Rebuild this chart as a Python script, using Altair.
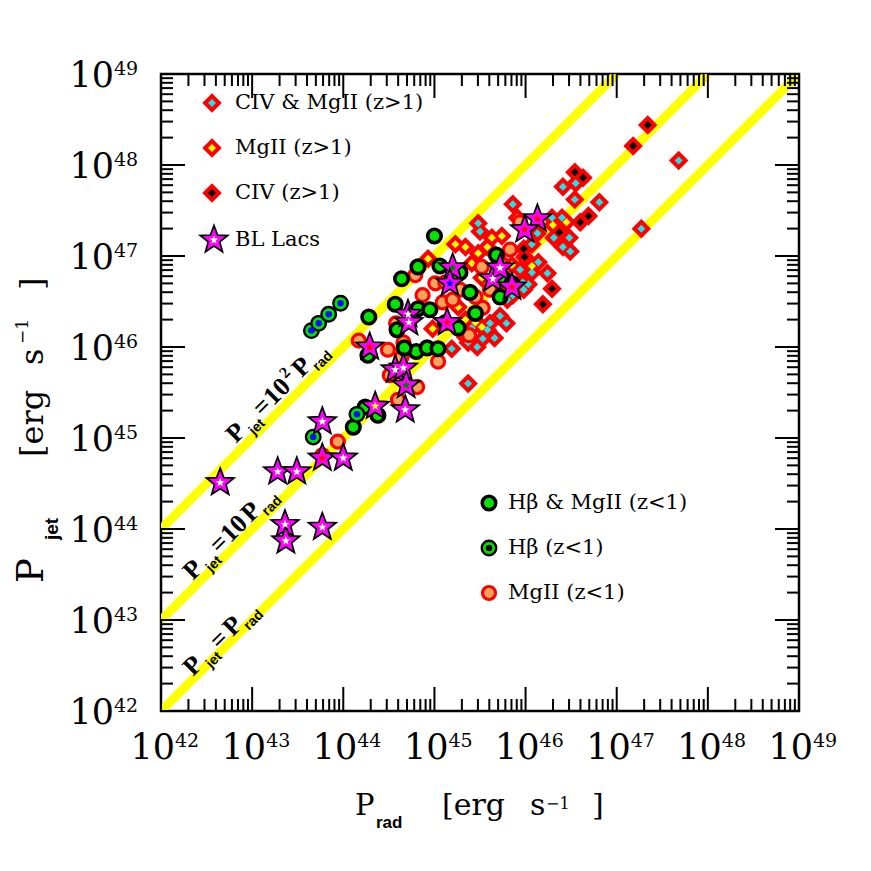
import altair as alt
import pandas as pd
import numpy as np

# ---------------- data (log10 of powers, erg/s) ----------------
# CIV & MgII (z>1)
civ_mgii_x = [47.68, 47.27, 46.81, 46.55, 46.41, 46.54, 45.86, 46.29, 46.40, 46.31,
              46.48, 46.41, 46.49, 46.07, 46.14, 46.07, 46.24, 46.03, 45.98, 45.86,
              45.72, 45.79, 45.66, 45.53, 45.47, 45.37, 45.19, 45.37, 45.61, 45.59,
              45.48, 45.50, 45.41, 45.34, 45.80, 45.74, 45.97, 45.58, 46.13, 45.94]
civ_mgii_y = [48.05, 47.30, 47.59, 47.80, 47.76, 47.62, 47.57, 47.42, 47.42, 47.20,
              47.20, 47.10, 47.05, 47.13, 46.93, 46.82, 46.81, 46.69, 46.63, 46.57,
              46.34, 46.26, 46.10, 46.09, 46.00, 46.05, 45.98, 45.60, 46.26, 46.70,
              47.36, 47.27, 46.21, 46.11, 46.52, 46.93, 46.71, 46.19, 47.25, 46.85]
# MgII (z>1)
mgii_hi_x = [45.74, 45.63, 45.23, 45.34, 45.58, 44.93, 46.45, 46.07, 45.85, 45.41,
             44.98, 45.52, 45.45, 45.26, 45.34, 45.48, 46.30, 45.52, 45.91, 45.69]
mgii_hi_y = [47.22, 47.20, 47.13, 47.10, 47.10, 46.97, 47.37, 46.89, 46.90, 46.92,
             46.20, 46.22, 46.27, 46.44, 46.30, 47.03, 47.34, 46.76, 47.42, 46.65]
# CIV (z>1)
civ_x = [47.34, 47.18, 46.54, 46.63, 46.69, 46.60, 46.37, 45.98, 45.99, 46.29, 46.19]
civ_y = [48.44, 48.21, 47.92, 47.86, 47.44, 47.37, 47.26, 47.08, 46.99, 46.64, 46.47]
# Hbeta & MgII (z<1)
hb_mgii_x = [45.00, 44.64, 44.82, 45.06, 44.28, 44.57, 44.82, 44.95, 44.80, 44.92,
             45.04, 44.59, 45.26, 45.72, 45.68, 45.45, 45.75, 44.11, 44.24, 44.38,
             44.27, 45.28, 45.19, 45.39, 45.12, 45.85, 44.67]
hb_mgii_y = [47.22, 46.75, 46.88, 46.89, 46.33, 46.47, 46.42, 46.41, 45.95, 45.99,
             45.98, 46.19, 46.21, 46.55, 47.01, 46.37, 46.76, 45.12, 45.34, 45.25,
             45.91, 46.82, 46.74, 46.60, 46.27, 46.70, 45.99]
# Hbeta (z<1)
hb_x = [43.65, 43.73, 43.84, 43.97, 44.15, 43.67]
hb_y = [46.18, 46.26, 46.36, 46.48, 45.26, 45.01]
# MgII (z<1)
mgii_lo_x = [44.17, 44.49, 44.66, 45.04, 44.87, 45.01, 45.09, 45.38, 44.51, 44.81,
             44.60, 43.94, 43.77, 44.58, 45.20, 45.45, 45.53, 44.64, 45.61, 45.83,
             45.94, 45.52, 45.12, 44.79, 45.28]
mgii_lo_y = [46.07, 45.97, 46.05, 45.84, 46.57, 46.70, 46.49, 46.13, 45.69, 45.56,
             45.42, 44.96, 44.81, 46.26, 46.52, 46.55, 46.43, 45.89, 46.63, 47.07,
             47.37, 46.88, 46.71, 46.79, 46.63]
# BL Lacs
bll_x = [42.65, 43.28, 43.49, 43.36, 43.37, 43.77, 43.77, 44.00, 43.77, 44.35,
         44.68, 44.29, 44.57, 44.66, 44.69, 44.71, 44.72, 45.14, 45.20, 45.17,
         45.64, 45.72, 45.85, 46.13, 45.99]
bll_y = [44.51, 44.63, 44.63, 44.05, 43.87, 44.02, 44.78, 44.78, 45.18, 45.35,
         45.31, 46.00, 45.75, 45.77, 45.58, 46.36, 46.27, 46.27, 46.87, 46.70,
         46.75, 46.87, 46.66, 47.41, 47.29]
bll_inner = ["white", "white", "white", "white", "white", "white", "red", "white", "white", "yellow",
             "white", "red", "white", "white", "green", "white", "white", "red", "green", "blue",
             "white", "white", "red", "red", "red"]

# reference lines P_jet = k * P_rad  (log k)
line_logk = [0, 1, 2]
exponents = list(range(42, 50))

legend1 = ["CIV & MgII (z>1)", "MgII (z>1)", "CIV (z>1)", "BL Lacs"]
legend2 = ["H\u03b2 & MgII (z<1)", "H\u03b2 (z<1)", "MgII (z<1)"]

# ---------------- geometry helpers ----------------
W, H = 638, 637
PXD_X = W / 7.0
PXD_Y = H / 7.0
RED, CYAN, YEL, GREEN, ORANGE, MAG = "#ff0000", "#22e0e8", "#ffff00", "#00e400", "#f6a45c", "#ff00ff"
SERIF = "DejaVu Serif"

def px2x(p):
    return 42 + p / PXD_X

def py2y(p):
    return 49 - p / PXD_Y

sx = alt.Scale(domain=[42, 49], nice=False, zero=False)
sy = alt.Scale(domain=[42, 49], nice=False, zero=False)
X = alt.X("x:Q", scale=sx, axis=None)
Y = alt.Y("y:Q", scale=sy, axis=None)

STAR = ("M0,-1 L0.247,-0.34 L0.951,-0.309 L0.399,0.13 L0.588,0.809 L0,0.42 "
        "L-0.588,0.809 L-0.399,0.13 L-0.951,-0.309 L-0.247,-0.34 Z")

def pts(xs, ys, **extra):
    d = {"x": xs, "y": ys}
    d.update(extra)
    return pd.DataFrame(d)

layers = []

# yellow lines
lines = []
for k in line_logk:
    lines.append({"x": 42, "y": 42 + k, "k": k})
    lines.append({"x": 49 - k, "y": 49, "k": k})
layers.append(alt.Chart(pd.DataFrame(lines)).mark_line(color=YEL, strokeWidth=9, strokeCap="butt", clip=True)
              .encode(x=X, y=Y, detail="k:N"))

# line labels (pieces placed along the 45 deg direction)
def along(ax, ay, a, p):
    sxp = ax + 0.7071 * (a + p)
    syp = ay + 0.7071 * (-a + p)
    return px2x(sxp - 161), py2y(syp - 74)

label_specs = [
    ((236, 444), [("P", 8, 0, "m"), ("jet", 27, 7, "s"), ("=", 45, 0, "m"), ("10", 66, 0, "m"),
                  ("2", 85, -11, "u"), ("P", 101, 0, "m"), ("rad", 120, 7, "s")]),
    ((193, 581), [("P", 8, 0, "m"), ("jet", 27, 7, "s"), ("=", 45, 0, "m"), ("10", 66, 0, "m"),
                  ("P", 90, 0, "m"), ("rad", 109, 7, "s")]),
    ((193, 677), [("P", 8, 0, "m"), ("jet", 27, 7, "s"), ("=", 45, 0, "m"),
                  ("P", 64, 0, "m"), ("rad", 83, 7, "s")]),
]
rows = {"m": [], "s": [], "u": []}
for (ax, ay), pieces in label_specs:
    for t, a, p, kind in pieces:
        lx, ly = along(ax, ay, a, p)
        rows[kind].append({"x": lx, "y": ly, "t": t})
layers.append(alt.Chart(pd.DataFrame(rows["m"])).mark_text(font="Liberation Serif", fontWeight="bold", fontSize=26,
              angle=315, align="center", baseline="alphabetic", color="black").encode(x=X, y=Y, text="t:N"))
layers.append(alt.Chart(pd.DataFrame(rows["s"])).mark_text(font="Liberation Sans", fontWeight="bold", fontSize=14,
              angle=315, align="center", baseline="alphabetic", color="black").encode(x=X, y=Y, text="t:N"))
layers.append(alt.Chart(pd.DataFrame(rows["u"])).mark_text(font="Liberation Serif", fontWeight="bold", fontSize=16,
              angle=315, align="center", baseline="alphabetic", color="black").encode(x=X, y=Y, text="t:N"))

# ---------------- symbols ----------------
def diamonds(df):
    outer = alt.Chart(df).mark_point(shape="diamond", filled=True, color=RED, size=19.5 ** 2, opacity=1).encode(x=X, y=Y)
    inner = alt.Chart(df).mark_point(shape="diamond", filled=True, size=8 ** 2, opacity=1).encode(
        x=X, y=Y, color=alt.Color("c:N", scale=None))
    return [outer, inner]

def circ_mgii(df):
    return [alt.Chart(df).mark_circle(fill=ORANGE, stroke=RED, strokeWidth=3.2, size=13 ** 2, opacity=1).encode(x=X, y=Y)]

def circ_hbmg(df):
    return [alt.Chart(df).mark_circle(fill=GREEN, stroke="black", strokeWidth=3.6, size=13.5 ** 2, opacity=1).encode(x=X, y=Y)]

def circ_hb(df, dot):
    return [alt.Chart(df).mark_circle(fill=GREEN, stroke="black", strokeWidth=2.4, size=14.5 ** 2, opacity=1).encode(x=X, y=Y),
            alt.Chart(df).mark_circle(color=dot, size=6.5 ** 2, opacity=1).encode(x=X, y=Y)]

def stars(df):
    return [alt.Chart(df).mark_point(shape=STAR, filled=True, fill=MAG, stroke="black", strokeWidth=1.7,
                                     size=29 ** 2, opacity=1).encode(x=X, y=Y),
            alt.Chart(df).mark_point(shape=STAR, filled=True, size=9 ** 2, opacity=1).encode(
                x=X, y=Y, color=alt.Color("c:N", scale=None))]

dia = pd.concat([pts(civ_mgii_x, civ_mgii_y, c=CYAN),
                 pts(mgii_hi_x, mgii_hi_y, c=YEL),
                 pts(civ_x, civ_y, c="black")], ignore_index=True)
layers += diamonds(dia)
layers += circ_mgii(pts(mgii_lo_x, mgii_lo_y))
layers += circ_hbmg(pts(hb_mgii_x, hb_mgii_y))
layers += circ_hb(pts(hb_x, hb_y), "#0010ff")
layers += stars(pts(bll_x, bll_y, c=bll_inner))

# ---------------- legends ----------------
l1_rows = [29, 74, 119, 166]
leg_d = pd.DataFrame({"x": [px2x(51)] * 3, "y": [py2y(r) for r in l1_rows[:3]], "c": [CYAN, YEL, "black"]})
layers += diamonds(leg_d)
layers += stars(pd.DataFrame({"x": [px2x(53)], "y": [py2y(166)], "c": ["white"]}))
layers.append(alt.Chart(pd.DataFrame({"x": [px2x(74)] * 4, "y": [py2y(r) for r in l1_rows], "t": legend1}))
              .mark_text(font=SERIF, fontSize=21, align="left", baseline="middle", color="black")
              .encode(x=X, y=Y, text="t:N"))
l2_rows = [429, 474, 519]
layers += circ_hbmg(pd.DataFrame({"x": [px2x(328)], "y": [py2y(l2_rows[0])]}))
layers += circ_hb(pd.DataFrame({"x": [px2x(328)], "y": [py2y(l2_rows[1])]}), "black")
layers += circ_mgii(pd.DataFrame({"x": [px2x(328)], "y": [py2y(l2_rows[2])]}))
layers.append(alt.Chart(pd.DataFrame({"x": [px2x(347)] * 3, "y": [py2y(r) for r in l2_rows], "t": legend2}))
              .mark_text(font=SERIF, fontSize=21, align="left", baseline="middle", color="black")
              .encode(x=X, y=Y, text="t:N"))

# ---------------- frame ticks ----------------
major = [float(e) for e in exponents]
minor = [d + float(np.log10(k)) for d in range(42, 49) for k in range(2, 10)]
for vals, ln in ((major, 24), (minor, 12)):
    dx = pd.DataFrame({"x": vals})
    dy = pd.DataFrame({"y": vals})
    layers.append(alt.Chart(dx).mark_rule(color="black", strokeWidth=2).encode(x=X, y=alt.value(H), y2=alt.value(H - ln)))
    layers.append(alt.Chart(dx).mark_rule(color="black", strokeWidth=2).encode(x=X, y=alt.value(0), y2=alt.value(ln)))
    layers.append(alt.Chart(dy).mark_rule(color="black", strokeWidth=2).encode(y=Y, x=alt.value(0), x2=alt.value(ln)))
    layers.append(alt.Chart(dy).mark_rule(color="black", strokeWidth=2).encode(y=Y, x=alt.value(W), x2=alt.value(W - ln)))

# ---------------- tick labels ----------------
tl = pd.DataFrame({"x": major, "y": major, "t": ["10"] * len(major), "e": [str(e) for e in exponents]})
layers.append(alt.Chart(tl).mark_text(font=SERIF, fontSize=35, align="right", baseline="alphabetic", dx=14, color="black")
              .encode(x=X, y=alt.value(685), text="t:N"))
layers.append(alt.Chart(tl).mark_text(font=SERIF, fontSize=19, align="left", baseline="alphabetic", dx=14, color="black")
              .encode(x=X, y=alt.value(673), text="e:N"))
layers.append(alt.Chart(tl).mark_text(font=SERIF, fontSize=35, align="right", baseline="alphabetic", dy=12.5, color="black")
              .encode(y=Y, x=alt.value(-47), text="t:N"))
layers.append(alt.Chart(tl).mark_text(font=SERIF, fontSize=19, align="left", baseline="alphabetic", dy=1, color="black")
              .encode(y=Y, x=alt.value(-47), text="e:N"))

# ---------------- axis titles ----------------
one = pd.DataFrame({"a": [0]})

def piece(text, x, y, size, font=SERIF, weight="normal", angle=0):
    return alt.Chart(one).mark_text(text=text, font=font, fontSize=size, fontWeight=weight, angle=angle,
                                    align="left", baseline="alphabetic", color="black").encode(
        x=alt.value(x), y=alt.value(y))

layers += [
    piece("P", 194, 741, 29),
    piece("rad", 215, 754, 17, font="Liberation Sans", weight="bold"),
    piece("[erg", 281, 741, 30),
    piece("s", 369, 741, 30),
    piece("\u22121", 385, 735, 16),
    piece("]", 431, 741, 30),
    piece("P", -118, 509, 37, angle=270),
    piece("jet", -103, 466, 19, font="Liberation Sans", weight="bold", angle=270),
    piece("[erg", -118, 383, 32, angle=270),
    piece("s", -118, 291, 32, angle=270),
    piece("\u22121", -133, 270, 17, angle=270),
    piece("]", -118, 216, 32, angle=270),
]

chart = alt.layer(*layers).properties(
    width=W, height=H,
    autosize=alt.AutoSizeParams(type="none"),
    padding={"left": 153, "top": 66, "right": 64, "bottom": 152},
    background="white",
).configure_view(stroke="black", strokeWidth=2.5)

chart.save("out.html", embed_options={"renderer": "svg", "actions": False})
